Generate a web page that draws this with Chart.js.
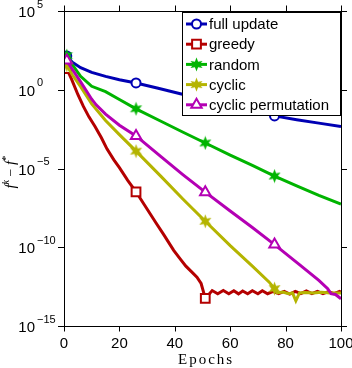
<!DOCTYPE html>
<html><head><meta charset="utf-8">
<script src="https://cdn.jsdelivr.net/npm/chart.js@4/dist/chart.umd.min.js"></script>
<style>html,body{margin:0;padding:0;background:#fff;overflow:hidden}</style>
</head><body>
<canvas id="c" width="352" height="368"></canvas>
<script>
// ---- data (y values stored as log10 of f^k - f^*) ----
const seriesNames = ['full update', 'greedy', 'random', 'cyclic', 'cyclic permutation'];
const seriesColors = ['#0000b4', '#b40000', '#00b400', '#b4b400', '#b400b4'];
const markerEpochs = [1, 26, 51, 76];

const fullX   = [1, 3, 6, 10, 15, 20, 26, 34, 42, 51, 60, 68, 76, 84, 92, 100];
const fullLog = [2.15, 1.75, 1.4, 1.1, 0.85, 0.64, 0.43, 0.1, -0.25, -0.62, -1.0, -1.33, -1.66, -1.9, -2.12, -2.34];

const greedyX   = [1, 2.8, 5, 7, 9, 11.2, 13.5, 15.5, 18, 20, 23, 26, 29, 33, 36, 39.6, 42, 44, 46, 48, 49.5, 50.2, 51,
                   53.5, 55.5, 57.5, 59.5, 61.3, 63, 64.5, 66.3, 68, 70, 71.6, 73.5, 75.5, 77.5, 79.5, 81.5, 83.5, 85.5,
                   87.5, 89.5, 91.5, 93.5, 95.5, 97.5, 99.5, 100];
const greedyLog = [1.34, 0.64, -0.3, -1.06, -1.72, -2.33, -3.05, -3.75, -4.45, -4.95, -5.75, -6.48, -7.3, -8.4, -9.2, -10.2,
                   -10.75, -11.2, -11.55, -11.9, -12.3, -12.74, -13.25,
                   -12.75, -12.95, -12.75, -12.95, -12.76, -12.96, -12.78, -12.95, -12.76, -12.95, -12.76, -12.95, -12.8,
                   -12.95, -12.8, -12.97, -12.8, -12.95, -12.78, -12.95, -12.8, -12.95, -12.82, -12.95, -12.8, -12.85];

const randomX   = [1, 3, 6, 10, 15, 20, 26, 35, 43, 51, 60, 68, 76, 84, 92, 100];
const randomLog = [2.17, 1.6, 0.85, 0.22, -0.12, -0.62, -1.21, -2.0, -2.7, -3.38, -4.15, -4.8, -5.48, -6.1, -6.7, -7.26];

const cyclicX   = [1, 3, 6, 10, 15, 20, 26, 35, 43, 51, 60, 68, 74, 76, 77, 79, 81, 82.5, 83.7, 85, 87, 90, 93, 96, 100];
const cyclicLog = [1.55, 0.95, 0.2, -0.9, -1.95, -2.85, -3.9, -5.5, -6.95, -8.35, -9.9, -11.2, -12.2, -12.63, -12.9,
                   -12.85, -12.95, -12.9, -13.4, -12.9, -12.88, -12.9, -12.85, -12.9, -12.9];

const permX   = [1, 3, 6, 10, 11.6, 15, 20, 26, 35, 43, 51, 60, 68, 76, 85, 92, 95.2, 96.4, 98, 100];
const permLog = [1.85, 1.3, 0.5, -0.6, -0.96, -1.55, -2.25, -2.93, -4.25, -5.4, -6.5, -7.7, -8.75, -9.83, -11.1, -12.1,
                 -12.63, -12.95, -13.0, -13.27];

const xTicks = [0, 20, 40, 60, 80, 100];
const yTickExps = [5, 0, -5, -10, -15];
const xTitle = 'Epochs';

// ---- build ----
function makeStar(color) {
  const cv = document.createElement('canvas');
  cv.width = 15; cv.height = 15;
  const g = cv.getContext('2d');
  g.fillStyle = color; g.strokeStyle = color; g.lineWidth = 1.5;
  g.beginPath();
  const cx = 7.5, cy = 7.5, ro = 7, ri = 3.2;
  for (let i = 0; i < 12; i++) {
    const a = -Math.PI / 2 + i * Math.PI / 6;
    const r = i % 2 === 0 ? ro : ri;
    const px = cx + r * Math.cos(a), py = cy + r * Math.sin(a);
    if (i === 0) g.moveTo(px, py); else g.lineTo(px, py);
  }
  g.closePath(); g.fill();
  return cv;
}
const greenStar = makeStar(seriesColors[2]);
const yellowStar = makeStar(seriesColors[3]);
const styles = ['circle', 'rect', greenStar, yellowStar, 'triangle'];
const radii = [4.5, 6.2, 6, 6, 6];

const xs = [fullX, greedyX, randomX, cyclicX, permX];
const ls = [fullLog, greedyLog, randomLog, cyclicLog, permLog];
const skipMarker = [[], [76], [], [], []];

const datasets = seriesNames.map((name, i) => ({
  label: name,
  data: xs[i].map((x, j) => ({ x: x, y: Math.pow(10, ls[i][j]) })),
  borderColor: seriesColors[i],
  backgroundColor: '#ffffff',
  borderWidth: 3,
  pointStyle: styles[i],
  pointBorderColor: seriesColors[i],
  pointBackgroundColor: '#ffffff',
  pointBorderWidth: 2,
  pointRadius: (ctx) => (ctx.raw && markerEpochs.includes(ctx.raw.x) && !skipMarker[i].includes(ctx.raw.x)) ? radii[i] : 0,
  pointHoverRadius: 0,
  tension: 0,
  fill: false,
  order: 5 - i
}));

function drawMarker(ctx, i, x, y) {
  const st = styles[i];
  ctx.save();
  if (typeof st !== 'string') {
    ctx.drawImage(st, x - st.width / 2, y - st.height / 2);
  } else {
    ctx.strokeStyle = seriesColors[i];
    ctx.fillStyle = '#ffffff';
    ctx.lineWidth = 2;
    if (Chart.helpers && Chart.helpers.drawPoint) {
      Chart.helpers.drawPoint(ctx, { pointStyle: st, radius: radii[i], rotation: 0, borderWidth: 2 }, x, y);
    } else {
      ctx.beginPath(); ctx.arc(x, y, radii[i], 0, Math.PI * 2); ctx.fill(); ctx.stroke();
    }
  }
  ctx.restore();
}

const axesPlugin = {
  id: 'axesPlugin',
  afterDatasetsDraw(chart) {
    const ctx = chart.ctx;
    // legend box
    const lx = 182.5, ly = 12.5, lw = 158, lh = 103;
    ctx.save();
    ctx.fillStyle = '#ffffff';
    ctx.fillRect(lx, ly, lw, lh);
    ctx.strokeStyle = '#000'; ctx.lineWidth = 1;
    ctx.strokeRect(lx, ly, lw, lh);
    ctx.font = '15px "Liberation Sans", Arial, sans-serif';
    ctx.textBaseline = 'middle';
    ctx.textAlign = 'left';
    seriesNames.forEach((name, i) => {
      const y = 24 + i * 20.2;
      ctx.strokeStyle = seriesColors[i]; ctx.lineWidth = 3;
      ctx.beginPath(); ctx.moveTo(186, y); ctx.lineTo(207, y); ctx.stroke();
      drawMarker(ctx, i, 196.5, y);
      ctx.fillStyle = '#000';
      ctx.fillText(name, 209, y + 1);
    });
    ctx.restore();
  },
  afterDraw(chart) {
    const ctx = chart.ctx;
    const a = chart.chartArea;
    const sx = chart.scales.x, sy = chart.scales.y;
    ctx.save();
    ctx.strokeStyle = '#000'; ctx.lineWidth = 1;
    ctx.strokeRect(Math.round(a.left) + 0.5, Math.round(a.top) + 0.5, Math.round(a.right - a.left), Math.round(a.bottom - a.top));
    ctx.beginPath();
    xTicks.forEach(t => {
      const px = Math.round(sx.getPixelForValue(t)) + 0.5;
      ctx.moveTo(px, a.bottom); ctx.lineTo(px, a.bottom + 5.5);
      ctx.moveTo(px, a.top); ctx.lineTo(px, a.top - 5.5);
    });
    yTickExps.forEach(e => {
      const py = Math.round(sy.getPixelForValue(Math.pow(10, e))) + 0.5;
      ctx.moveTo(a.left, py); ctx.lineTo(a.left - 6, py);
      ctx.moveTo(a.right, py); ctx.lineTo(a.right + 6, py);
    });
    ctx.stroke();

    ctx.fillStyle = '#000';
    ctx.font = '15px "Liberation Sans", Arial, sans-serif';
    ctx.textAlign = 'center'; ctx.textBaseline = 'alphabetic';
    xTicks.forEach(t => {
      ctx.fillText(String(t), sx.getPixelForValue(t), 348);
    });
    yTickExps.forEach(e => {
      const py = sy.getPixelForValue(Math.pow(10, e));
      ctx.font = '15px "Liberation Sans", Arial, sans-serif';
      ctx.textAlign = 'right';
      ctx.fillText('10', 35, py + 6);
      ctx.font = '11px "Liberation Sans", Arial, sans-serif';
      ctx.textAlign = 'left';
      ctx.fillText(String(e).replace('-', '\u2212'), 37, py - 3.5);
    });

    // x title
    ctx.font = '15px "Liberation Serif", "Times New Roman", serif';
    ctx.textAlign = 'left';
    try { ctx.letterSpacing = '2px'; } catch (err) {}
    ctx.fillText(xTitle, 178, 363.5);
    try { ctx.letterSpacing = '0px'; } catch (err) {}

    // y title: f^k - f^*
    ctx.translate(15, 172);
    ctx.rotate(-Math.PI / 2);
    const parts = [
      { t: 'f', f: 'italic 15px "Liberation Serif", serif', dy: 0 },
      { t: 'k', f: 'italic 10px "Liberation Serif", serif', dy: -6 },
      { t: ' \u2212 ', f: '14px "Liberation Serif", serif', dy: 0 },
      { t: 'f', f: 'italic 15px "Liberation Serif", serif', dy: 0 },
      { t: '*', f: '11px "Liberation Serif", serif', dy: -6 }
    ];
    let total = 0;
    parts.forEach(p => { ctx.font = p.f; p.w = ctx.measureText(p.t).width; total += p.w; });
    let cx = -total / 2;
    ctx.textAlign = 'left';
    parts.forEach(p => { ctx.font = p.f; ctx.fillText(p.t, cx, p.dy); cx += p.w; });
    ctx.restore();
  }
};

new Chart(document.getElementById('c'), {
  type: 'line',
  data: { datasets },
  options: {
    responsive: false,
    animation: false,
    devicePixelRatio: 1,
    layout: { padding: { left: 64, right: 11, top: 11, bottom: 42 } },
    plugins: { legend: { display: false }, tooltip: { enabled: false } },
    scales: {
      x: { type: 'linear', min: 0, max: 100, display: false },
      y: { type: 'logarithmic', min: 1e-15, max: 1e5, display: false }
    }
  },
  plugins: [axesPlugin]
});
</script>
</body></html>
